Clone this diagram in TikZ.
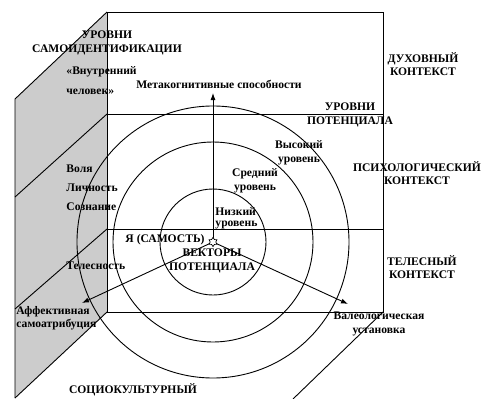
\documentclass[tikz,border=0pt]{standalone}
\usepackage{fontspec}
\setmainfont{Liberation Serif}
\usetikzlibrary{shapes.geometric,arrows.meta}
\begin{document}
\begin{tikzpicture}[x=1pt,y=-1pt,line width=0.9pt,
  lbl/.style={font=\bfseries\fontsize{11.6}{13.6}\selectfont,inner sep=0pt,align=center},
  lbll/.style={lbl,anchor=west,align=left},
  vec/.style={-{Latex[length=7pt,width=5pt]}},
  shade/.style={fill=black!20,draw=none}]
\useasboundingbox (0,0) rectangle (488,399);
% geometry
\coordinate (A) at (107,12);  \coordinate (B) at (383,12);
\coordinate (C) at (383,312); \coordinate (D) at (107,312);
\coordinate (L1) at (107,114); \coordinate (R1) at (383,114);
\coordinate (L2) at (107,229); \coordinate (R2) at (383,229);
\coordinate (P0) at (15,99);  \coordinate (P1) at (15,197);
\coordinate (P2) at (15,309); \coordinate (P3) at (15,398);
\coordinate (Q) at (293,399);
\coordinate (O) at (213,242);
\coordinate (TU) at (213,93);
\coordinate (TL) at (82,303);
\coordinate (TR) at (348,304);
% shaded side face
\fill[shade] (A) -- (P0) -- (P3) -- (D) -- cycle;
\draw (A) -- (P0) -- (P3);
\draw (L1) -- (P1);
\draw (L2) -- (P2);
\draw (D) -- (P3);
\draw (C) -- (Q);
% front face
\draw (A) rectangle (C);
\draw (L1) -- (R1);
\draw (L2) -- (R2);
% circles
\draw (O) circle[radius=53];
\draw (O) circle[radius=100];
\draw (O) circle[radius=136];
% vectors
\draw[vec] (O) -- (TU);
\draw[vec] (O) -- (TL);
\draw[vec] (O) -- (TR);
\node[star,star points=6,star point ratio=1.6,draw,fill=white,line width=0.7pt,minimum size=9pt,inner sep=0pt] (self) at (O) {};
% labels
\node[lbl] (t1) at (107,43) {УРОВНИ\\САМОИДЕНТИФИКАЦИИ};
\node[lbll] (t2) at (66,72) {«Внутренний};
\node[lbll] (t3) at (66,92) {человек»};
\node[lbl] (t4) at (219,84) {Метакогнитивные способности};
\node[lbl] (t5) at (423,64) {ДУХОВНЫЙ\\КОНТЕКСТ};
\node[lbl] (t6) at (350,115) {УРОВНИ\\ПОТЕНЦИАЛА};
\node[lbl] (t7) at (299,153) {Высокий\\уровень};
\node[lbl] (t8) at (255,181) {Средний\\уровень};
\node[lbl] (t9) at (417,173) {ПСИХОЛОГИЧЕСКИЙ\\КОНТЕКСТ};
\node[lbll] (t10) at (215,212) {Низкий};
\node[lbll] (t11) at (215,225) {уровень};
\node[lbll] (t12) at (66,169) {Воля};
\node[lbll] (t13) at (66,188) {Личность};
\node[lbll] (t14) at (66,207) {Сознание};
\node[lbll] (t15) at (66,266) {Телесность};
\node[lbll] (t16) at (16,312) {Аффективная};
\node[lbll] (t17) at (16,325) {самоатрибуция};
\node[lbl,anchor=east] (t18) at (205,240) {Я (САМОСТЬ)};
\node[lbl] (t19) at (212,261) {ВЕКТОРЫ\\ПОТЕНЦИАЛА};
\node[lbl] (t20) at (422,267) {ТЕЛЕСНЫЙ\\КОНТЕКСТ};
\node[lbl] (t21) at (379,324) {Валеологическая\\установка};
\node[lbl] (t22) at (133,390) {СОЦИОКУЛЬТУРНЫЙ};
\end{tikzpicture}
\end{document}
